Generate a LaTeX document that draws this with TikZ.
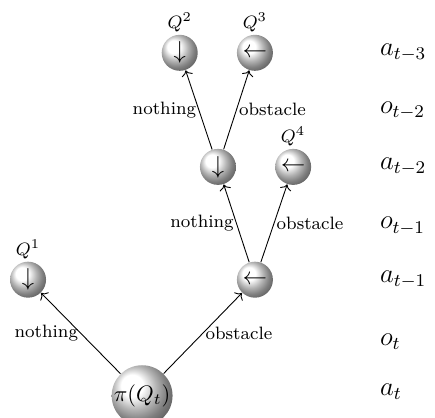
\documentclass[tikz,border=0pt]{standalone}
\usepackage{amsmath,amssymb}
\usepackage{tikz}
\usetikzlibrary{arrows.meta,calc,positioning,shadings}

\tikzset{
  palla/.style={circle, shading=ball, ball color=white, inner sep=0pt, minimum size=0.565cm, font=\fontsize{11}{13}\selectfont},
  radice/.style={palla, minimum size=0.94cm, font=\normalsize},
  etichetta/.style={font=\footnotesize, inner sep=1pt},
  livello/.style={anchor=west, font=\large}
}

\begin{document}
\begin{tikzpicture}
\useasboundingbox (0,0) rectangle (6.826,6.559);
% Nodi dell'albero
\node[radice] (root) at (2.23,0.35) {$\pi(Q_t)$};
\node[palla, label={[font=\footnotesize, inner sep=1pt]above:$Q^1$}] (q1) at (0.44,2.17) {$\downarrow$};
\node[palla] (obs1) at (4.00,2.17) {$\leftarrow$};
\node[palla] (mid) at (3.42,3.94) {$\downarrow$};
\node[palla, label={[font=\footnotesize, inner sep=1pt]above:$Q^4$}] (q4) at (4.60,3.94) {$\leftarrow$};
\node[palla, label={[font=\footnotesize, inner sep=1pt]above:$Q^2$}] (q2) at (2.82,5.73) {$\downarrow$};
\node[palla, label={[font=\footnotesize, inner sep=1pt]above:$Q^3$}] (q3) at (4.00,5.73) {$\leftarrow$};
% Archi con le osservazioni
\draw[->] (root) -- (q1) node[etichetta,midway,left] (n1) {nothing};
\draw[->] (root) -- (obs1) node[etichetta,midway,right] (o1) {obstacle};
\draw[->] (obs1) -- (mid) node[etichetta,midway,left] (n2) {nothing};
\draw[->] (obs1) -- (q4) node[etichetta,midway,right] (o2) {obstacle};
\draw[->] (mid) -- (q2) node[etichetta,midway,left] (n3) {nothing};
\draw[->] (mid) -- (q3) node[etichetta,midway,right] (o3) {obstacle};
% etichette dei livelli
\foreach \txt/\y [count=\i] in {a_{t-3}/5.73, o_{t-2}/4.82, a_{t-2}/3.94, o_{t-1}/3.01, a_{t-1}/2.17, o_t/1.19, a_t/0.41}{
  \node[livello] (lv\i) at (5.84,\y) {$\txt$};
}
\end{tikzpicture}
\end{document}
